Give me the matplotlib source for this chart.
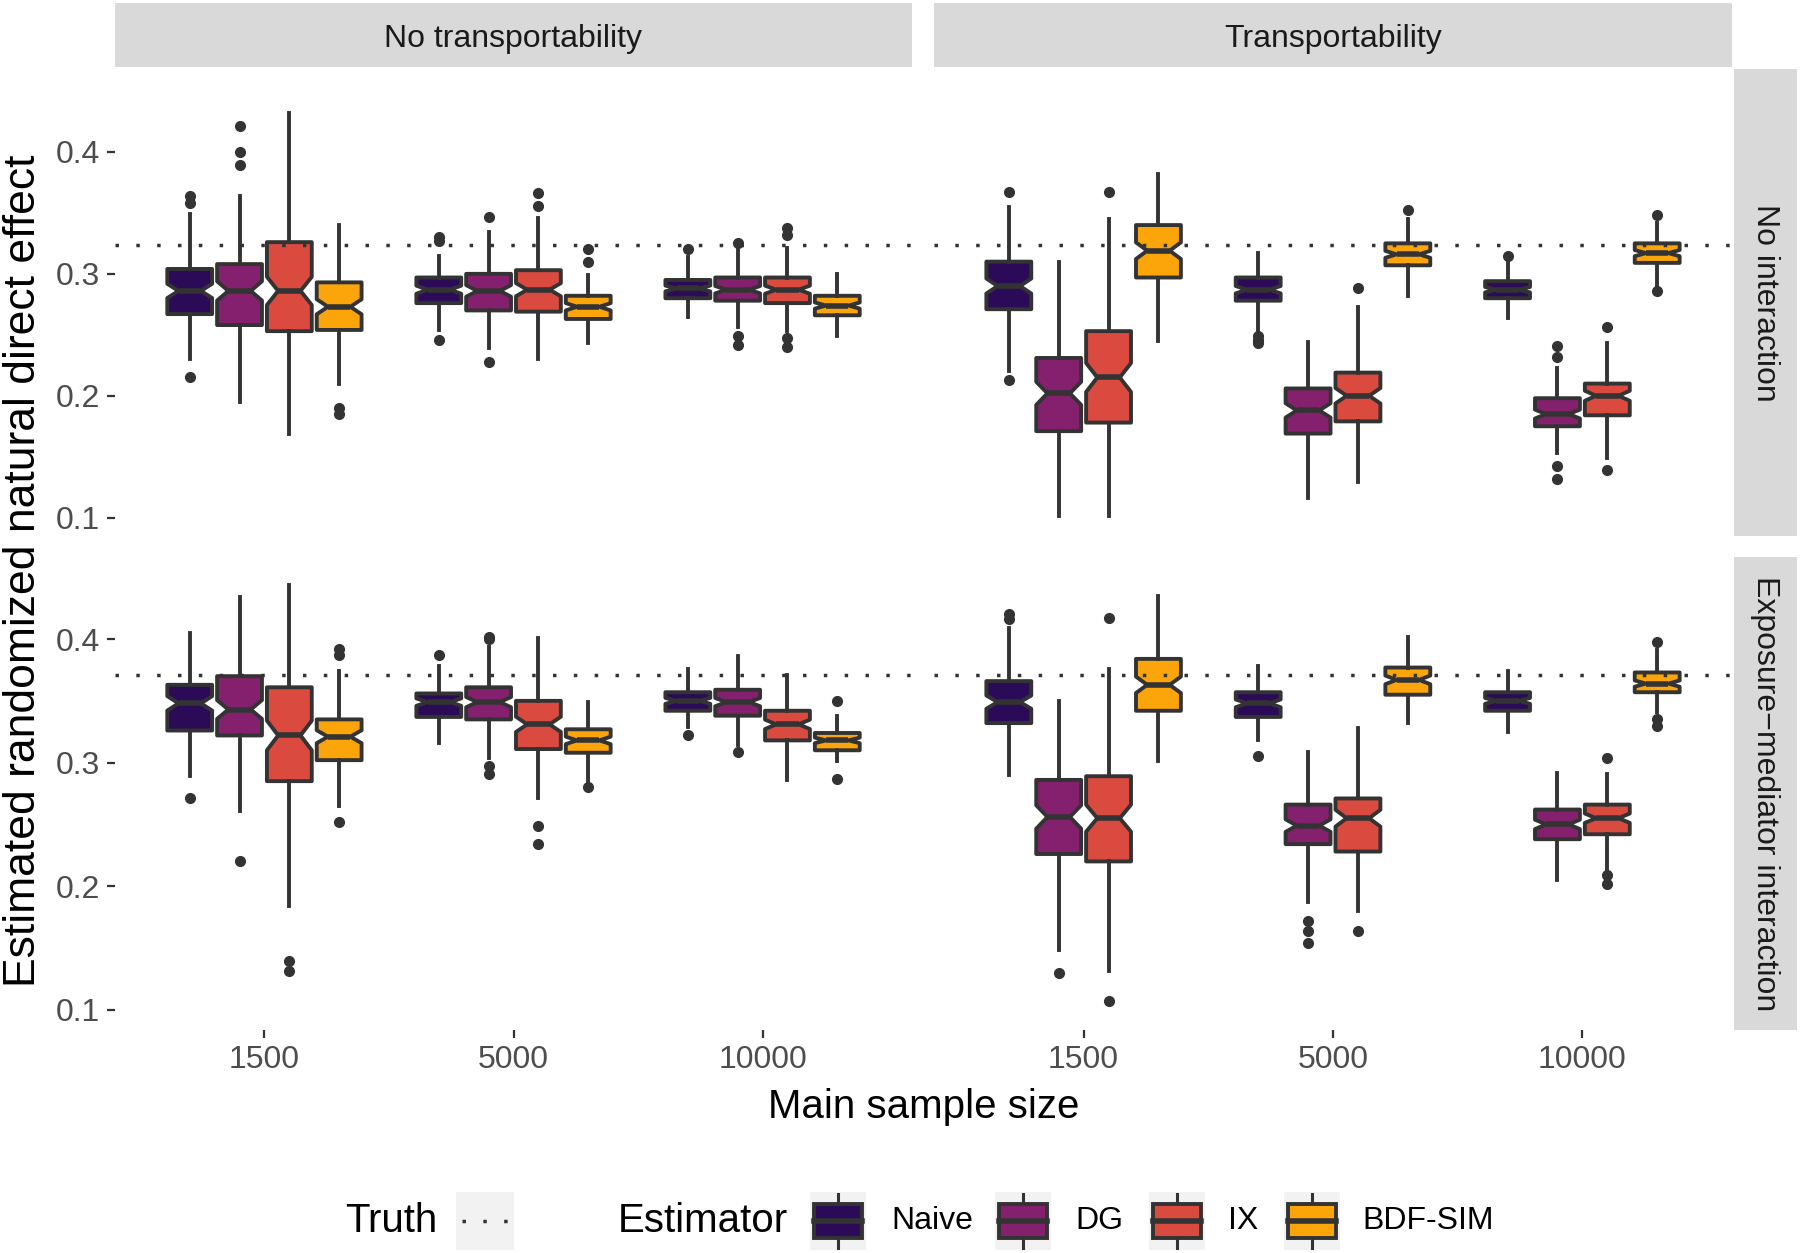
import numpy as np
import matplotlib
matplotlib.use("Agg")
import matplotlib.pyplot as plt
from matplotlib.patches import Rectangle

plt.rcParams['font.family'] = ['Liberation Sans', 'DejaVu Sans']

sizes = ["1500", "5000", "10000"]
estimators = ["Naive", "DG", "IX", "BDF-SIM"]
colors = ["#2B0B57", "#85206F", "#DB4A3F", "#FCA50A"]
transport = ["No transportability", "Transportability"]
interaction = ["No interaction", "Exposure\u2212mediator interaction"]
truth = [0.3236, 0.3708]
n_sim = 100  # replications per box, used for the notch

# box stats, one row per (sample size, estimator): whislo, q1, median, q3, whishi
noint_notrans = [
    [0.230, 0.267, 0.286, 0.304, 0.349], [0.195, 0.258, 0.286, 0.308, 0.364],
    [0.169, 0.253, 0.286, 0.326, 0.432], [0.210, 0.254, 0.273, 0.293, 0.340],
    [0.254, 0.276, 0.287, 0.297, 0.315], [0.239, 0.270, 0.286, 0.300, 0.334],
    [0.230, 0.269, 0.287, 0.303, 0.346], [0.243, 0.263, 0.273, 0.282, 0.299],
    [0.265, 0.280, 0.288, 0.295, 0.314], [0.256, 0.278, 0.287, 0.297, 0.321],
    [0.253, 0.276, 0.287, 0.297, 0.321], [0.249, 0.266, 0.274, 0.282, 0.300],
]
noint_notrans_out = [
    [0.364, 0.358, 0.215], [0.421, 0.400, 0.389], [], [0.190, 0.185],
    [0.330, 0.327, 0.246], [0.347, 0.228], [0.366, 0.356], [0.320, 0.310],
    [0.320], [0.325, 0.249, 0.242], [0.338, 0.332, 0.247, 0.240], [],
]
noint_trans = [
    [0.220, 0.271, 0.290, 0.310, 0.355], [0.101, 0.171, 0.202, 0.231, 0.310],
    [0.101, 0.178, 0.215, 0.253, 0.345], [0.245, 0.297, 0.319, 0.340, 0.382],
    [0.254, 0.278, 0.287, 0.297, 0.317], [0.116, 0.169, 0.188, 0.206, 0.244],
    [0.129, 0.179, 0.200, 0.219, 0.273], [0.282, 0.307, 0.316, 0.325, 0.345],
    [0.264, 0.280, 0.287, 0.294, 0.309], [0.153, 0.175, 0.185, 0.198, 0.223],
    [0.149, 0.184, 0.200, 0.210, 0.243], [0.291, 0.309, 0.317, 0.325, 0.342],
]
noint_trans_out = [
    [0.367, 0.213], [], [0.367], [],
    [0.249, 0.246, 0.243], [], [0.288], [0.352],
    [0.315], [0.241, 0.232, 0.142, 0.132], [0.256, 0.139], [0.348, 0.286],
]
inter_notrans = [
    [0.289, 0.326, 0.348, 0.363, 0.405], [0.261, 0.322, 0.343, 0.370, 0.434],
    [0.184, 0.285, 0.322, 0.361, 0.444], [0.265, 0.302, 0.321, 0.335, 0.374],
    [0.316, 0.337, 0.349, 0.356, 0.378], [0.304, 0.335, 0.349, 0.361, 0.394],
    [0.271, 0.311, 0.331, 0.350, 0.401], [0.284, 0.308, 0.318, 0.327, 0.349],
    [0.329, 0.342, 0.350, 0.357, 0.376], [0.314, 0.338, 0.349, 0.359, 0.386],
    [0.286, 0.318, 0.331, 0.342, 0.371], [0.301, 0.310, 0.318, 0.324, 0.338],
]
inter_notrans_out = [
    [0.271], [0.220], [0.139, 0.131], [0.392, 0.387, 0.252],
    [0.387], [0.402, 0.400, 0.297, 0.291], [0.249, 0.234], [0.280],
    [0.322], [0.309], [], [0.350, 0.287],
]
inter_trans = [
    [0.290, 0.332, 0.349, 0.366, 0.409], [0.148, 0.226, 0.256, 0.286, 0.350],
    [0.131, 0.220, 0.255, 0.289, 0.376], [0.301, 0.342, 0.363, 0.384, 0.435],
    [0.318, 0.337, 0.348, 0.357, 0.378], [0.187, 0.234, 0.249, 0.266, 0.309],
    [0.180, 0.228, 0.255, 0.271, 0.328], [0.332, 0.355, 0.367, 0.377, 0.402],
    [0.325, 0.342, 0.350, 0.357, 0.374], [0.205, 0.238, 0.250, 0.262, 0.292],
    [0.214, 0.242, 0.255, 0.266, 0.291], [0.341, 0.357, 0.364, 0.373, 0.391],
]
inter_trans_out = [
    [0.420, 0.416], [0.130], [0.417, 0.107], [],
    [0.305], [0.172, 0.164, 0.154], [0.164], [],
    [], [], [0.304, 0.209, 0.202], [0.398, 0.335, 0.330],
]

panels = [[(noint_notrans, noint_notrans_out), (noint_trans, noint_trans_out)],
          [(inter_notrans, inter_notrans_out), (inter_trans, inter_trans_out)]]

W, H = 1800, 1253
fig = plt.figure(figsize=(W / 100, H / 100), dpi=100)

def fx(px):
    return px / W

def fy(py):
    return 1 - py / H

col_x = [(115, 912), (934, 1732)]
row_y = [(69, 536), (557, 1030)]
ylims = [(0.085, 0.468), (0.0835, 0.4665)]
edge = "#333333"
dodge = 0.2
lw_box = 2.8
lw_med = 4.0

for r in range(2):
    for c in range(2):
        x0, x1 = col_x[c]
        y0, y1 = row_y[r]
        ax = fig.add_axes([fx(x0), fy(y1), (x1 - x0) / W, (y1 - y0) / H])
        stats, outs = panels[r][c]
        bstats, pos = [], []
        for i in range(len(sizes)):
            for j in range(len(estimators)):
                lo, q1, med, q3, hi = stats[i * 4 + j]
                half = 1.58 * (q3 - q1) / np.sqrt(n_sim)
                bstats.append(dict(whislo=lo, q1=q1, med=med, q3=q3, whishi=hi,
                                   fliers=outs[i * 4 + j], cilo=med - half, cihi=med + half))
                pos.append(i + 1 + (j - 1.5) * dodge)
        art = ax.bxp(bstats, positions=pos, widths=0.18, shownotches=True,
                     patch_artist=True, showcaps=False,
                     boxprops=dict(edgecolor=edge, linewidth=lw_box),
                     medianprops=dict(color=edge, linewidth=lw_med, solid_capstyle='butt'),
                     whiskerprops=dict(color=edge, linewidth=lw_box),
                     flierprops=dict(marker='o', markerfacecolor=edge, markeredgecolor=edge,
                                     markersize=7, linestyle='none'))
        for k, b in enumerate(art['boxes']):
            b.set_facecolor(colors[k % 4])
            b.set_joinstyle('round')
        ax.axhline(truth[r], color=edge, linewidth=2.5, linestyle=(0, (1, 5)), zorder=5)
        ax.set_xlim(0.4, 3.6)
        ax.set_ylim(*ylims[r])
        for s in ax.spines.values():
            s.set_visible(False)
        ax.set_yticks([0.1, 0.2, 0.3, 0.4])
        ax.set_xticks([1, 2, 3])
        ax.tick_params(axis='both', colors=edge, labelcolor='#4D4D4D', labelsize=23,
                       length=6, width=1.6, pad=5)
        if c == 0:
            ax.set_yticklabels(["0.1", "0.2", "0.3", "0.4"])
        else:
            ax.tick_params(axis='y', left=False, labelleft=False)
        if r == 1:
            ax.set_xticklabels(sizes)
        else:
            ax.tick_params(axis='x', bottom=False, labelbottom=False)

# strips
strip_bg = "#D9D9D9"
for c in range(2):
    x0, x1 = col_x[c]
    fig.add_artist(Rectangle((fx(x0), fy(67)), (x1 - x0) / W, 64 / H,
                             transform=fig.transFigure, facecolor=strip_bg, edgecolor='none'))
    fig.text(fx((x0 + x1) / 2), fy(39), transport[c], ha='center', va='center',
             fontsize=23, color='#1A1A1A')
for r in range(2):
    y0, y1 = row_y[r]
    fig.add_artist(Rectangle((fx(1734), fy(y1)), 63 / W, (y1 - y0) / H,
                             transform=fig.transFigure, facecolor=strip_bg, edgecolor='none'))
    fig.text(fx(1765), fy((y0 + y1) / 2), interaction[r], ha='center', va='center',
             rotation=270, fontsize=23, color='#1A1A1A')

# axis titles
fig.text(fx(924), fy(1107), "Main sample size", ha='center', va='center', fontsize=29)
fig.text(fx(24), fy(571), "Estimated randomized natural direct effect", ha='center',
         va='center', rotation=90, fontsize=32)

# legend drawn by hand in pixel units
lax = fig.add_axes([0, 0, 1, 73 / H])
lax.set_xlim(0, W)
lax.set_ylim(H, 1180)
lax.axis('off')
cy = 1221
lax.text(345, cy, "Truth", ha='left', va='center', fontsize=29)
lax.add_patch(Rectangle((456, 1192), 58, 58, facecolor='#F2F2F2', edgecolor='none', zorder=1))
lax.plot([462, 508], [cy, cy], color=edge, linewidth=2.5, linestyle=(0, (1, 5)), zorder=2)
lax.text(618, cy, "Estimator", ha='left', va='center', fontsize=29)
key_x = [810, 995, 1149, 1284]
lab_x = [891, 1075, 1228, 1362]
for k, name in enumerate(estimators):
    kx = key_x[k]
    lax.add_patch(Rectangle((kx, 1192), 56, 58, facecolor='#F2F2F2', edgecolor='none', zorder=1))
    lax.plot([kx + 28, kx + 28], [1194, 1248], color=edge, linewidth=2.2, zorder=2)
    lax.add_patch(Rectangle((kx + 4, 1204), 48, 34, facecolor=colors[k], edgecolor=edge,
                            linewidth=lw_box, zorder=3))
    lax.plot([kx + 4, kx + 52], [cy, cy], color=edge, linewidth=lw_med, zorder=4)
    lax.text(lab_x[k], cy, name, ha='left', va='center', fontsize=23)

fig.savefig("out.png", dpi=100)
